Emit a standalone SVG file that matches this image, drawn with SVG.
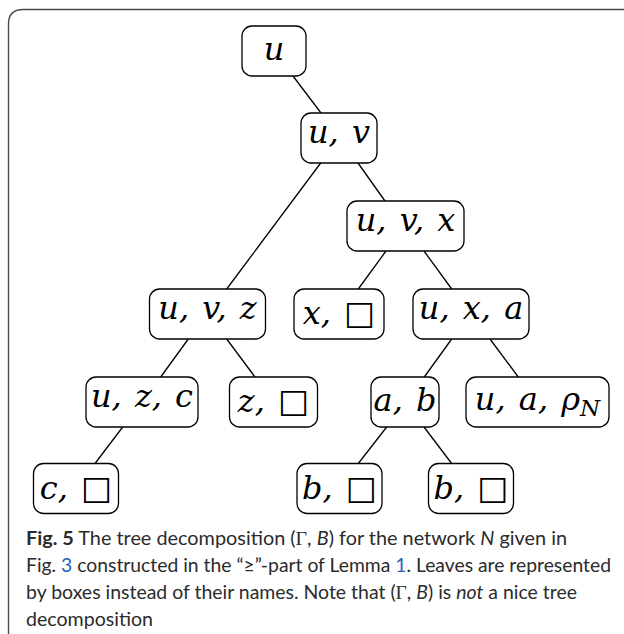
<svg xmlns="http://www.w3.org/2000/svg" width="624" height="634" viewBox="0 0 624 634">
<style>
.box{fill:#fff;stroke:#000;stroke-width:1.3}
.lbl{font-family:"DejaVu Serif",serif;font-style:italic;font-size:32px;fill:#000;text-anchor:middle;word-spacing:3px}
.sq{font-family:"DejaVu Sans",sans-serif;font-style:normal;font-size:33px}
.edge line{stroke:#000;stroke-width:1.3}
.cap{font-family:Lato,"Open Sans",sans-serif;font-size:19px;fill:#2b2b2b}
.link{fill:#2a62c0}
</style>
<rect width="624" height="634" fill="#fff"/>
<path d="M8.5 634 L8.5 24 Q8.5 9.5 23 9.5 L624 9.5" fill="none" stroke="#4a4a4a" stroke-width="1.4"/>
<g class="edge" id="connectors">
<line x1="293" y1="76" x2="321" y2="113"/>
<line x1="320.7" y1="163" x2="226.7" y2="289"/>
<line x1="358" y1="163" x2="385" y2="201"/>
<line x1="386" y1="251" x2="358.3" y2="289"/>
<line x1="424" y1="251" x2="451.7" y2="289"/>
<line x1="188.3" y1="339" x2="160.7" y2="377"/>
<line x1="226.7" y1="339" x2="255" y2="377"/>
<line x1="451.7" y1="339" x2="424.3" y2="377"/>
<line x1="490" y1="339" x2="518.3" y2="377"/>
<line x1="122.7" y1="427" x2="95" y2="463.5"/>
<line x1="386.7" y1="427" x2="358.3" y2="463.5"/>
<line x1="424" y1="427" x2="451.7" y2="463.5"/>
</g>
<g id="n_u"><rect class="box" x="242" y="26" width="64" height="50" rx="10"/><text class="lbl" font-style="italic" x="274" y="60">u</text></g>
<g id="n_uv"><rect class="box" x="301" y="113" width="76" height="50" rx="10"/><text class="lbl" font-style="italic" x="339" y="143">u, v</text></g>
<g id="n_uvx"><rect class="box" x="347" y="201" width="117" height="50" rx="10"/><text class="lbl" font-style="italic" x="405.5" y="231">u, v, x</text></g>
<g id="n_uvz"><rect class="box" x="149.5" y="289" width="116" height="50" rx="10"/><text class="lbl" font-style="italic" x="207.5" y="319">u, v, z</text></g>
<g id="n_xbox"><rect class="box" x="294" y="289" width="90" height="50" rx="10"/><text class="lbl" font-style="italic" x="339" y="324">x, <tspan class="sq">□</tspan></text></g>
<g id="n_uxa"><rect class="box" x="413" y="289" width="116" height="50" rx="10"/><text class="lbl" font-style="italic" x="471" y="319">u, x, a</text></g>
<g id="n_uzc"><rect class="box" x="86" y="377" width="112" height="50" rx="10"/><text class="lbl" font-style="italic" x="142" y="407">u, z, c</text></g>
<g id="n_zbox"><rect class="box" x="229.5" y="377" width="88" height="50" rx="10"/><text class="lbl" font-style="italic" x="273.5" y="412">z, <tspan class="sq">□</tspan></text></g>
<g id="n_ab"><rect class="box" x="371" y="377" width="68" height="50" rx="10"/><text class="lbl" font-style="italic" x="405" y="411">a, b</text></g>
<g id="n_uarho"><rect class="box" x="466" y="377" width="143" height="50" rx="10"/><text class="lbl" font-style="italic" x="537.5" y="410">u, a, ρ<tspan font-size="23" dy="6">N</tspan></text></g>
<g id="n_cbox"><rect class="box" x="33.5" y="463.5" width="85" height="50" rx="10"/><text class="lbl" font-style="italic" x="76" y="498.5">c, <tspan class="sq">□</tspan></text></g>
<g id="n_bbox1"><rect class="box" x="297" y="463.5" width="85" height="50" rx="10"/><text class="lbl" font-style="italic" x="339.5" y="498.5">b, <tspan class="sq">□</tspan></text></g>
<g id="n_bbox2"><rect class="box" x="428.5" y="463.5" width="85" height="50" rx="10"/><text class="lbl" font-style="italic" x="471" y="498.5">b, <tspan class="sq">□</tspan></text></g>
<g id="caption">
<text class="cap" x="26" y="545" textLength="541" lengthAdjust="spacingAndGlyphs"><tspan font-weight="bold">Fig. 5</tspan>  The tree decomposition (<tspan font-family="Liberation Serif">Γ</tspan>, <tspan font-style="italic">B</tspan>) for the network <tspan font-style="italic">N</tspan> given in</text>
<text class="cap" x="26" y="572" textLength="585" lengthAdjust="spacingAndGlyphs">Fig. <tspan class="link">3</tspan> constructed in the “≥”-part of Lemma <tspan class="link">1</tspan>. Leaves are represented</text>
<text class="cap" x="26" y="599" textLength="551" lengthAdjust="spacingAndGlyphs">by boxes instead of their names. Note that (<tspan font-family="Liberation Serif">Γ</tspan>, <tspan font-style="italic">B</tspan>) is <tspan font-style="italic">not</tspan> a nice tree</text>
<text class="cap" x="26" y="626" textLength="127" lengthAdjust="spacingAndGlyphs">decomposition</text>
</g>
</svg>
